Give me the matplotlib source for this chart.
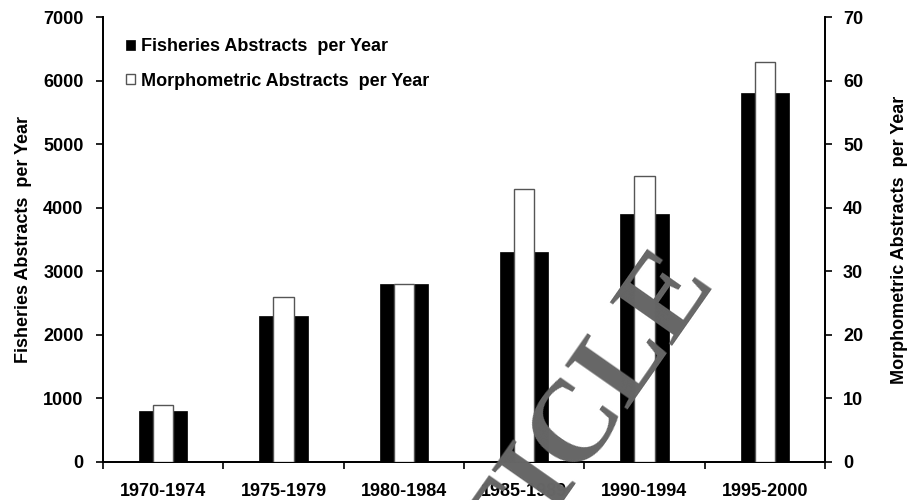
import matplotlib
matplotlib.use("Agg")
import matplotlib.pyplot as plt
import numpy as np

# periods and abstract counts
periods = ["1970-1974", "1975-1979", "1980-1984", "1985-1989", "1990-1994", "1995-2000"]
fisheries = [800, 2300, 2800, 3300, 3900, 5800]       # left axis
morphometric = [9, 26, 28, 43, 45, 63]                # right axis

plt.rcParams["font.family"] = ["Liberation Sans", "DejaVu Sans"]
plt.rcParams["font.weight"] = "bold"
FS = 13

fig = plt.figure(figsize=(9.13, 5.0), dpi=100)
ax = fig.add_axes([103 / 913, 38 / 500, 722 / 913, 445 / 500])
ax2 = ax.twinx()

x = np.arange(len(periods)) + 0.5
b1 = ax.bar(x, fisheries, width=0.4, color="black", edgecolor="black",
            linewidth=0.5, zorder=2, label="Fisheries Abstracts  per Year")
b2 = ax2.bar(x, morphometric, width=0.17, color="white", edgecolor="#555555",
             linewidth=1.0, zorder=3, label="Morphometric Abstracts  per Year")

ax.set_xlim(0, len(periods))
ax.set_ylim(0, 7000)
ax2.set_ylim(0, 70)
ax.set_yticks(np.arange(0, 7001, 1000))
ax2.set_yticks(np.arange(0, 71, 10))

# category ticks at boundaries, labels centred under each pair of bars
ax.set_xticks(np.arange(0, len(periods) + 1))
ax.set_xticklabels([])
ax.set_xticks(x, minor=True)
ax.set_xticklabels(periods, minor=True, fontsize=FS, fontweight="bold")
ax.tick_params(axis="x", which="minor", length=0, pad=15)
ax.tick_params(axis="x", which="major", direction="out", length=5, width=1.2)
ax.tick_params(axis="y", direction="out", length=5, width=1.2, labelsize=FS, pad=9)
ax2.tick_params(axis="y", direction="out", length=5, width=1.2, labelsize=FS, pad=8)

for a in (ax, ax2):
    a.spines["top"].set_visible(False)
    for s in ("left", "right", "bottom"):
        a.spines[s].set_linewidth(1.3)
    for lab in a.get_yticklabels():
        lab.set_fontweight("bold")

ax.set_ylabel("Fisheries Abstracts  per Year", fontsize=FS, fontweight="bold", labelpad=8)
ax2.set_ylabel("Morphometric Abstracts  per Year", fontsize=FS, fontweight="bold", labelpad=20)

ax.set_zorder(ax2.get_zorder() - 1)
ax.patch.set_visible(False)

leg = ax2.legend([b1, b2], [b1.get_label(), b2.get_label()], loc="upper left",
                 bbox_to_anchor=(0.022, 0.968), frameon=False, fontsize=FS,
                 handlelength=0.5, handleheight=0.5, handletextpad=0.3,
                 labelspacing=0.95, borderaxespad=0)
for t in leg.get_texts():
    t.set_fontweight("bold")

# watermark
fig.text(0.785, 0.436, "ARTICLE", fontsize=84, family="Liberation Serif",
         fontweight="bold", color="#666666", rotation=55,
         rotation_mode="anchor", ha="right", va="baseline", zorder=10)

fig.savefig("out.png", dpi=100)
